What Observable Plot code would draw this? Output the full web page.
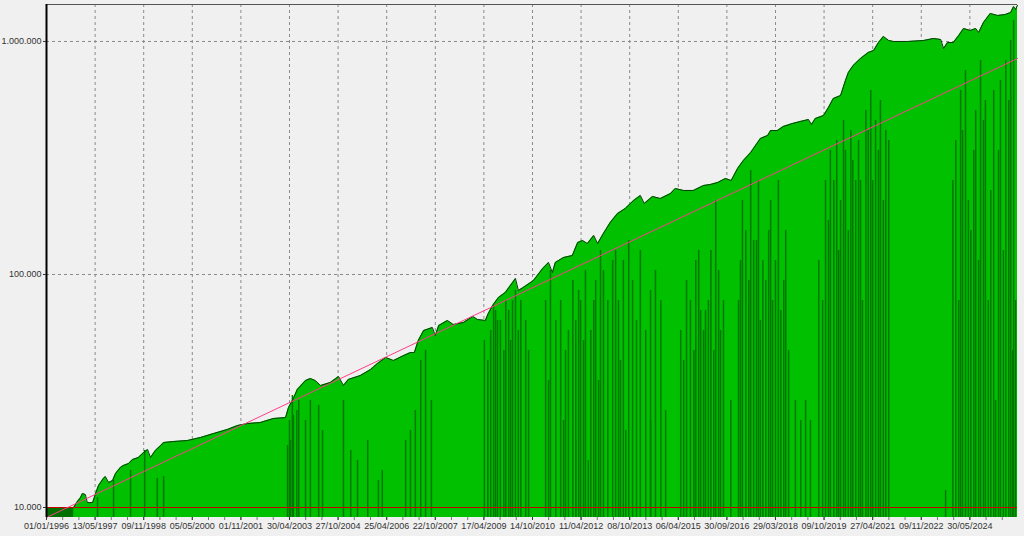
<!DOCTYPE html>
<html><head><meta charset="utf-8">
<script src="https://cdn.jsdelivr.net/npm/d3@7"></script>
<script src="https://cdn.jsdelivr.net/npm/@observablehq/plot@0.6"></script>
<style>html,body{margin:0;padding:0;background:#f0f0f0;overflow:hidden}</style>
</head><body><div id="chart"></div><script>
// Equity curve (trade number -> account value)
const trade = [0,56,62,70,74,80,84,95,101,107,117,121,128,136,142,152,158,169,177,189,200,208,214,224,235,241,261,290,317,344,372,393,414,440,467,492,498,508,516,533,543,553,564,584,601,611,621,646,667,681,698,714,735,749,757,765,776,794,800,807,825,837,858,877,887,903,909,918,930,944,959,965,971,981,1002,1021,1033,1041,1047,1064,1082,1093,1103,1113,1126,1134,1146,1160,1175,1191,1208,1222,1230,1247,1263,1284,1294,1311,1331,1352,1366,1381,1397,1409,1422,1434,1449,1469,1484,1490,1504,1516,1535,1551,1568,1574,1582,1599,1609,1619,1634,1644,1650,1660,1675,1691,1702,1712,1722,1733,1743,1772,1805,1825,1840,1846,1854,1866,1877,1887,1901,1912,1918,1928,1942,1957,1973,1984,1990,1994,1998];
const equity = [10000,10000,10500,11040,11480,11370,10500,10500,11480,12430,13320,13590,12800,13060,13990,14850,15140,15450,16070,16390,17220,17740,16390,17570,18450,19010,19200,19390,19980,20780,21620,22480,22940,23160,24100,24330,26870,29370,32100,35080,35780,35080,33390,34400,36490,33390,35440,36860,39120,41500,44040,42750,44910,46270,46270,52090,57500,59230,54720,60400,63480,61000,62230,66020,64100,63480,68000,73620,79670,83690,92400,96120,85380,87960,94230,106120,112600,102000,112600,118300,120650,137200,139900,135800,147100,135800,150000,167200,182700,192000,207800,218300,201700,216200,211900,222600,233900,229400,229400,241000,243400,248200,258200,253200,285000,308600,333900,383500,395100,414900,414900,431700,444700,453600,462600,440300,467200,481300,521000,569300,586400,680100,736200,788900,845300,897100,915000,990100,1051000,1010000,1000000,1000000,1010000,1030000,1020000,933000,990100,990100,1061000,1137000,1115000,1137000,1093000,1206000,1319000,1293000,1306000,1332000,1413000,1372000,1427000];

// Dark-green drawdown bars (trade number -> bar top)
const darkTrade = [105,138,173,202,228,241,496,502,508,515,533,543,560,568,611,626,640,661,683,691,739,749,759,770,780,792,908,914,924,934,945,955,965,976,986,1027,1037,1048,1058,1083,1089,1099,1109,1120,1130,1140,1165,1177,1187,1198,1222,1243,1253,1305,1325,1336,1346,1356,1367,1377,1387,1428,1439,1449,1461,1469,1480,1490,1500,1511,1521,1527,1552,1562,1589,1603,1613,1626,1634,1644,1655,1665,1675,1686,1696,1706,1716,1727,1850,1871,1881,1891,1902,1912,1922,1932,1943,1953,1963,1974,1984,1990,1994,
  500,506,519,901,920,928,941,951,959,971,992,1033,1068,1074,1095,1105,1126,1136,1146,1155,1171,1181,1206,1214,1233,1264,1311,1317,1332,1342,1352,1362,1373,1383,1393,1424,1432,1445,1455,1465,1474,1486,1494,1506,1517,1597,1609,1620,1630,1640,1650,1659,1671,1679,1691,1700,1712,1722,1733,1865,1877,1885,1897,1908,1918,1928,1938,1949,1959,1969,1980,1988,1064,1089,1115,1192,1243,1274,1408,1541,1572];
const darkValue = [11040,13060,14410,17570,13320,13590,18450,19390,24820,26080,23630,28790,27400,21400,28790,17570,15910,19390,13060,14410,19390,21400,26080,42750,47190,28790,42750,57500,70050,63480,77320,52090,85380,77320,63480,77320,104000,63480,77320,94230,63480,77320,104000,57500,94230,126800,114800,77320,114800,139900,126800,85380,104000,57500,77320,114800,70050,70050,126800,207800,57500,114800,154500,279600,139900,63480,94230,207800,114800,70050,154500,47190,23630,28790,114800,253200,340500,375900,207800,340500,414900,253200,253200,505600,616300,458100,558200,414900,11830,375900,616300,750800,154500,505600,828900,558200,229400,28790,680100,828900,1010000,1230000,77320,
  23630,30250,28790,52090,73620,63480,47190,70050,77320,57500,47190,35080,47190,57500,85380,52090,77320,35080,104000,77320,126800,42750,94230,63480,57500,77320,42750,94230,47190,126800,57500,77320,47190,104000,77320,77320,207800,94230,139900,253200,114800,154500,77320,253200,94230,77320,170500,253200,126800,458100,154500,308600,375900,77320,414900,253200,340500,207800,375900,253200,77320,414900,207800,340500,114800,458100,77320,616300,340500,126800,558200,47190,23630,19390,15910,21400,23630,26080,28790,28790,23630];

// Initial flat block
const blockStart = [0];
const blockEnd = [56];
const blockTop = [10000];

// Regression (trend) line end points
const trendTrade = [0, 1998];
const trendValue = [9060, 845000];

const startCapital = 10000;
const yTicks = [10000, 100000, 1000000];
const tickLabels = ["01/01/1996","13/05/1997","09/11/1998","05/05/2000","01/11/2001","30/04/2003","27/10/2004","25/04/2006","22/10/2007","17/04/2009","14/10/2010","11/04/2012","08/10/2013","06/04/2015","30/09/2016","29/03/2018","09/10/2019","27/04/2021","09/11/2022","30/05/2024"];
const tradesPerLabel = 100;

const yMin = 9060, yMax = 1441000, xMax = 1998;

const rows = trade.map((t, i) => ({trade: t, value: equity[i]}));
const darkRows = darkTrade.map((t, i) => ({trade: t, value: darkValue[i]}));
const blocks = blockStart.map((s, i) => ({x1: s, x2: blockEnd[i], y2: blockTop[i]}));
const trend = trendTrade.map((t, i) => ({trade: t, value: trendValue[i]}));
const majorTicks = tickLabels.map((_, i) => i * tradesPerLabel);
const minorTicks = d3.range(0, xMax, tradesPerLabel / 3);
const fmt = d3.formatLocale({thousands: ".", grouping: [3], decimal: ",", currency: ["", ""]}).format(",");

const chart = Plot.plot({
  width: 1024, height: 536,
  marginLeft: 46, marginRight: 7, marginTop: 4, marginBottom: 19,
  style: {background: "#f0f0f0", fontFamily: "'Liberation Sans', Arial, sans-serif", fontSize: "9px", color: "#333"},
  x: {domain: [0, xMax]},
  y: {type: "log", domain: [yMin, yMax]},
  marks: [
    Plot.gridX(majorTicks.slice(1), {stroke: "#8a8a8a", strokeOpacity: 1, strokeDasharray: "3,3"}),
    Plot.gridY([100000, 1000000], {stroke: "#8a8a8a", strokeOpacity: 1, strokeDasharray: "3,3"}),
    Plot.areaY(rows, {x: "trade", y1: () => yMin, y2: "value", fill: "#00c000"}),
    Plot.rect(blocks, {x1: "x1", x2: "x2", y1: () => yMin, y2: "y2", fill: "#007000"}),
    Plot.ruleX(darkRows, {x: "trade", y1: () => yMin, y2: "value", stroke: "#007800", strokeWidth: 1.5}),
    Plot.lineY(rows, {x: "trade", y: "value", stroke: "#0a3a0a", strokeWidth: 1}),
    Plot.ruleY([startCapital], {stroke: "#c80000", strokeWidth: 1}),
    Plot.line(trend, {x: "trade", y: "value", stroke: "#ff3d8b", strokeWidth: 1}),
    Plot.ruleY([yMax], {stroke: "#555", strokeWidth: 1}),
    Plot.ruleX([0], {stroke: "#000", strokeWidth: 2}),
    Plot.axisY({ticks: yTicks, tickFormat: fmt, tickSize: 3, tickPadding: 2, label: null, fill: "#333"}),
    Plot.axisX({ticks: minorTicks, tickFormat: () => "", tickSize: 3, label: null, stroke: "#777"}),
    Plot.axisX({ticks: majorTicks, tickFormat: (d, i) => tickLabels[i], tickSize: 3, tickPadding: 2, label: null, fill: "#333"})
  ]
});
document.getElementById("chart").appendChild(chart);
</script></body></html>
